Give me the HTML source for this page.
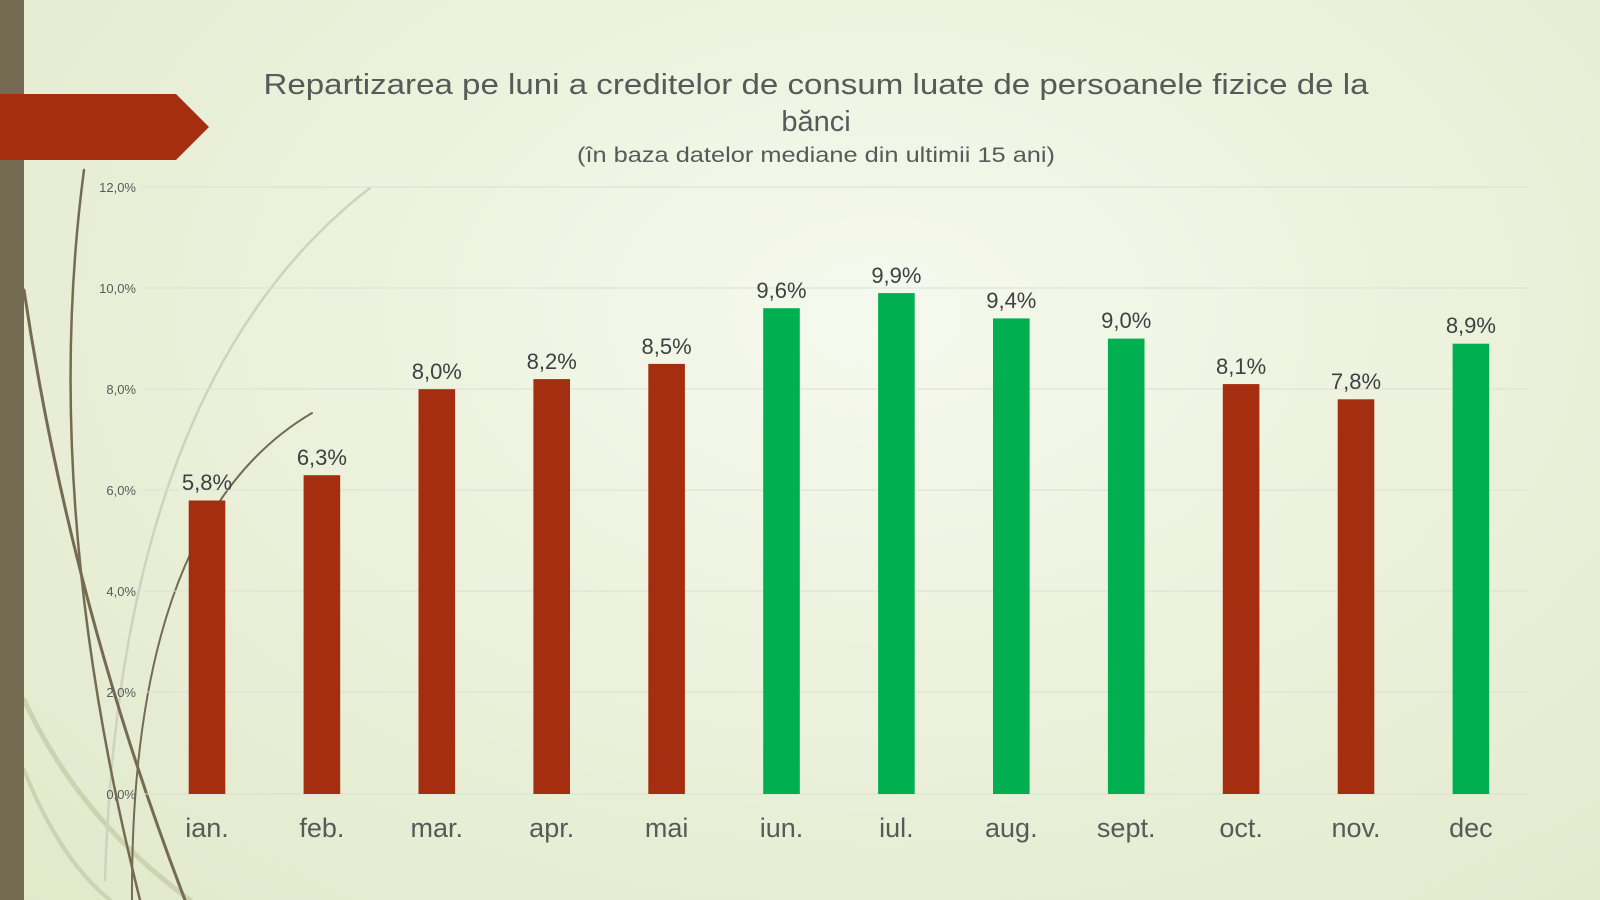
<!DOCTYPE html>
<html><head><meta charset="utf-8"><style>
html,body{margin:0;padding:0;}
body{width:1600px;height:900px;overflow:hidden;background:radial-gradient(ellipse at 55% 35%,#f6f9ee 0%,#eaf0d9 55%,#e1e9cb 100%);font-family:"Liberation Sans",sans-serif;}
</style></head><body>
<svg width="1600" height="900" viewBox="0 0 1600 900" xmlns="http://www.w3.org/2000/svg" style="position:absolute;left:0;top:0">
<g fill="none" stroke-linecap="round">
<path d="M24 700 Q80 820 190 900" stroke="#cdd2b0" stroke-width="5"/>
<path d="M24 770 Q60 860 110 900" stroke="#cdd2b0" stroke-width="4"/>
<path d="M370 188 Q120 380 105 880" stroke="#cfd3bd" stroke-width="2.5"/>
<path d="M24 290 Q70 600 185 900" stroke="#756b53" stroke-width="3"/>
<path d="M84 170 Q40 500 140 900" stroke="#756b53" stroke-width="2.5"/>
<path d="M312 413 Q130 520 132 900" stroke="#756b53" stroke-width="2"/>
</g>
<rect x="0" y="0" width="24" height="900" fill="#756b53"/>
<polygon points="0,94 176,94 209,127 176,160 0,160" fill="#a52d10"/>
<g fill="#595959" text-anchor="middle" font-family="Liberation Sans, sans-serif">
<text x="816" y="94" font-size="29" textLength="1105" lengthAdjust="spacingAndGlyphs">Repartizarea pe luni a creditelor de consum luate de persoanele fizice de la</text>
<text x="816" y="131" font-size="29">bănci</text>
<text x="816" y="162" font-size="21" textLength="478" lengthAdjust="spacingAndGlyphs">(în baza datelor mediane din ultimii 15 ani)</text>
</g>
<g stroke="#dcdfd6" stroke-width="1">
<line x1="143" y1="187" x2="1528" y2="187"/>
<line x1="143" y1="288" x2="1528" y2="288"/>
<line x1="143" y1="389" x2="1528" y2="389"/>
<line x1="143" y1="490" x2="1528" y2="490"/>
<line x1="143" y1="591" x2="1528" y2="591"/>
<line x1="143" y1="692" x2="1528" y2="692"/>
<line x1="143" y1="794" x2="1528" y2="794"/>
</g>
<g fill="#595959" font-size="13" text-anchor="end">
<text x="136" y="192">12,0%</text>
<text x="136" y="293">10,0%</text>
<text x="136" y="394">8,0%</text>
<text x="136" y="495">6,0%</text>
<text x="136" y="596">4,0%</text>
<text x="136" y="697">2,0%</text>
<text x="136" y="799">0,0%</text>
</g>
<g>
<rect x="188.7" y="500.5" width="36.6" height="293.5" fill="#a52d10"/>
<rect x="303.6" y="475.2" width="36.6" height="318.8" fill="#a52d10"/>
<rect x="418.5" y="389.2" width="36.6" height="404.8" fill="#a52d10"/>
<rect x="533.4" y="379.1" width="36.6" height="414.9" fill="#a52d10"/>
<rect x="648.3" y="363.9" width="36.6" height="430.1" fill="#a52d10"/>
<rect x="763.2" y="308.2" width="36.6" height="485.8" fill="#00b050"/>
<rect x="878.1" y="293.1" width="36.6" height="500.9" fill="#00b050"/>
<rect x="993.0" y="318.4" width="36.6" height="475.6" fill="#00b050"/>
<rect x="1107.9" y="338.6" width="36.6" height="455.4" fill="#00b050"/>
<rect x="1222.8" y="384.1" width="36.6" height="409.9" fill="#a52d10"/>
<rect x="1337.7" y="399.3" width="36.6" height="394.7" fill="#a52d10"/>
<rect x="1452.6" y="343.7" width="36.6" height="450.3" fill="#00b050"/>
</g>
<g fill="#404040" font-size="22" text-anchor="middle">
<text x="207" y="490">5,8%</text>
<text x="321.9" y="465">6,3%</text>
<text x="436.8" y="379">8,0%</text>
<text x="551.7" y="369">8,2%</text>
<text x="666.6" y="354">8,5%</text>
<text x="781.5" y="298">9,6%</text>
<text x="896.4" y="283">9,9%</text>
<text x="1011.3" y="308">9,4%</text>
<text x="1126.2" y="328">9,0%</text>
<text x="1241.1" y="374">8,1%</text>
<text x="1356" y="389">7,8%</text>
<text x="1470.9" y="333">8,9%</text>
</g>
<g fill="#595959" font-size="27" text-anchor="middle">
<text x="207" y="837">ian.</text>
<text x="321.9" y="837">feb.</text>
<text x="436.8" y="837">mar.</text>
<text x="551.7" y="837">apr.</text>
<text x="666.6" y="837">mai</text>
<text x="781.5" y="837">iun.</text>
<text x="896.4" y="837">iul.</text>
<text x="1011.3" y="837">aug.</text>
<text x="1126.2" y="837">sept.</text>
<text x="1241.1" y="837">oct.</text>
<text x="1356" y="837">nov.</text>
<text x="1470.9" y="837">dec</text>
</g>
</svg>
</body></html>
